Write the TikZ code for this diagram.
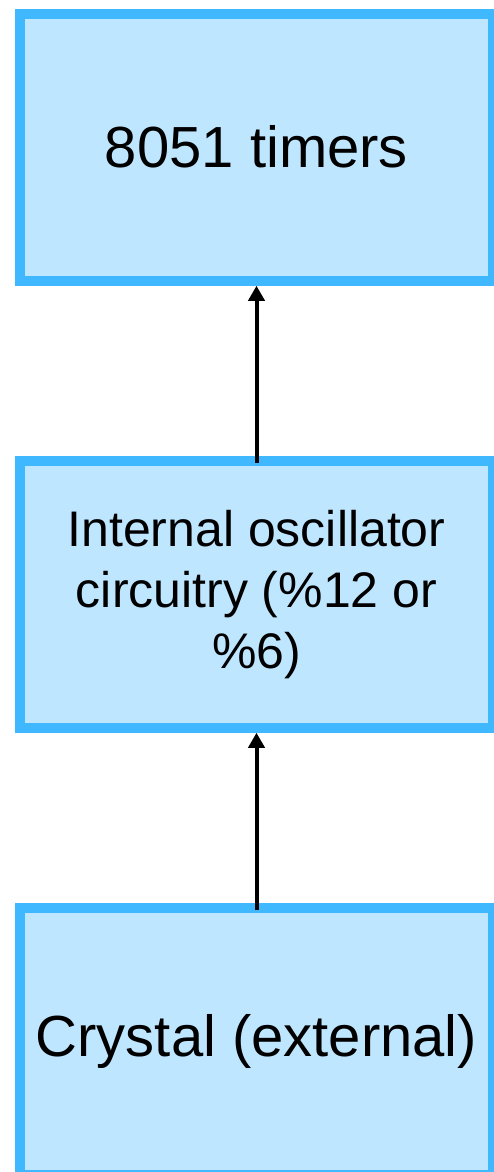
\documentclass[tikz,border=0pt]{standalone}
\usepackage{fontspec}
\setmainfont{Liberation Sans}
\usepackage{tikz}
\usetikzlibrary{arrows.meta,positioning}
\definecolor{boxline}{RGB}{64,184,255}
\definecolor{boxfill}{RGB}{191,230,255}

\begin{document}
\begin{tikzpicture}[x=1pt, y=1pt,
    block/.style={draw=boxline, fill=boxfill, line width=10pt, minimum width=473pt, minimum height=267pt, inner sep=0pt, align=center},
    flow/.style={-{Triangle[length=15pt,width=16pt]}, line width=4pt, shorten <=-7pt}]
    \useasboundingbox (0,0) rectangle (493,-1172);
    \node[block, font=\fontsize{58}{66}\selectfont] (timers) at (256.5,-147.25) {8051 timers};
    \node[block, below=170pt of timers, font=\fontsize{50}{61}\selectfont] (osc) {Internal oscillator\\circuitry (\%12 or\\\%6)};
    \node[block, below=170pt of osc, font=\fontsize{58}{66}\selectfont] (crystal) {Crystal (external)};
    \draw[flow] (osc.north) -- (timers.south);
    \draw[flow] (crystal.north) -- (osc.south);
\end{tikzpicture}
\end{document}
